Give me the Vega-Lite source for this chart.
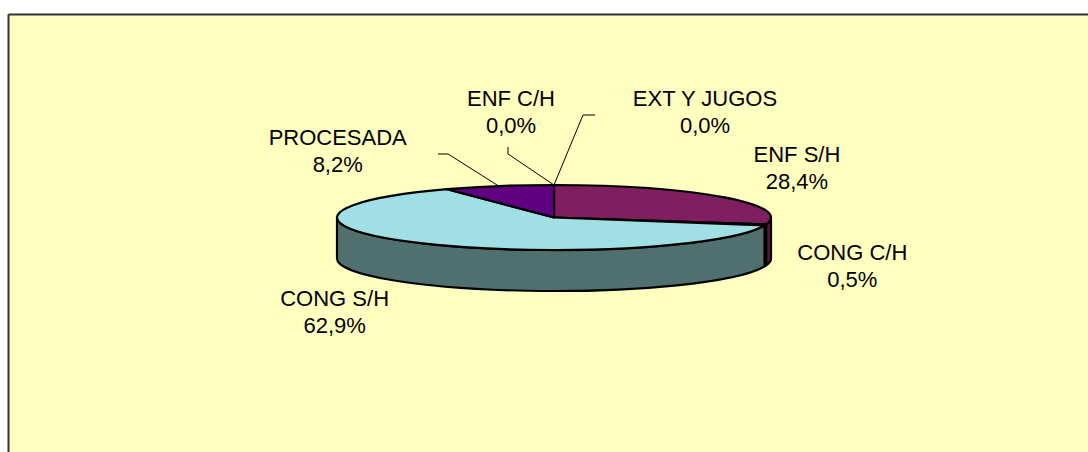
{
  "$schema": "https://vega.github.io/schema/vega-lite/v6.json",
  "width": 1080,
  "height": 438,
  "autosize": "none",
  "padding": {"left": 8, "top": 14, "right": 0, "bottom": 0},
  "background": "#FFFFFF",
  "config": {"view": {"fill": "#FFFFC0", "stroke": null}},
  "data": {"values": [
    {"cat": "ENF S/H", "value": 28.4},
    {"cat": "CONG C/H", "value": 0.5},
    {"cat": "CONG S/H", "value": 62.9},
    {"cat": "PROCESADA", "value": 8.2},
    {"cat": "ENF C/H", "value": 0.0},
    {"cat": "EXT Y JUGOS", "value": 0.0}
  ]},
  "transform": [
    {"window": [{"op": "sum", "field": "value", "as": "v1"}], "frame": [null, 0], "ignorePeers": true},
    {"joinaggregate": [{"op": "sum", "field": "value", "as": "total"}]},
    {"calculate": "2*PI*(datum.v1-datum.value)/datum.total", "as": "a0"},
    {"calculate": "2*PI*datum.v1/datum.total", "as": "a1"},
    {"calculate": "(datum.a0+datum.a1)/2", "as": "am"},
    {"calculate": "217*sin(datum.am)", "as": "ex"},
    {"calculate": "32.5*cos(datum.am)", "as": "ey"},
    {"calculate": "max(datum.a0, PI/2)", "as": "s0"},
    {"calculate": "min(datum.a1, 3*PI/2)", "as": "s1"},
    {"calculate": "'M0,0L' + round(sin(datum.a0)*100000)/100000 + ',' + round(-0.1498*cos(datum.a0)*100000)/100000 + 'A1,0.1498,0,' + (datum.a1 - datum.a0 > PI ? 1 : 0) + ',1,' + round(sin(datum.a1)*100000)/100000 + ',' + round(-0.1498*cos(datum.a1)*100000)/100000 + 'Z'", "as": "topPath"},
    {"calculate": "'M' + round(sin(datum.s0)*100000)/100000 + ',' + round(-0.1498*cos(datum.s0)*100000)/100000 + 'A1,0.1498,0,0,1,' + round(sin(datum.s1)*100000)/100000 + ',' + round(-0.1498*cos(datum.s1)*100000)/100000 + 'L' + round(sin(datum.s1)*100000)/100000 + ',' + round((0.1889-0.1498*cos(datum.s1))*100000)/100000 + 'A1,0.1498,0,0,0,' + round(sin(datum.s0)*100000)/100000 + ',' + round((0.1889-0.1498*cos(datum.s0))*100000)/100000 + 'Z'", "as": "sidePath"},
    {"calculate": "datum.cat + '\\n' + replace(format(datum.value, '.1f'), '.', ',') + '%'", "as": "label"}
  ],
  "encoding": {
    "x": {"field": "ex", "type": "quantitative", "scale": {"domain": [-546, 534], "nice": false, "zero": false}, "axis": {"orient": "top", "domain": true, "domainColor": "#333333", "domainWidth": 2, "ticks": false, "labels": false, "grid": false, "title": null}},
    "y": {"field": "ey", "type": "quantitative", "scale": {"domain": [-234.5, 203.5], "nice": false, "zero": false}, "axis": {"orient": "left", "domain": true, "domainColor": "#333333", "domainWidth": 2, "ticks": false, "labels": false, "grid": false, "title": null}}
  },
  "layer": [
    {
      "transform": [{"filter": "datum.value > 0 && datum.s1 > datum.s0"}],
      "mark": {"type": "point", "filled": true, "opacity": 1, "stroke": "#000000", "strokeWidth": 2.2, "strokeJoin": "round"},
      "encoding": {
        "x": {"datum": 0, "type": "quantitative", "scale": {"domain": [-546, 534], "nice": false, "zero": false}, "axis": {"orient": "top", "domain": true, "domainColor": "#333333", "domainWidth": 2, "ticks": false, "labels": false, "grid": false, "title": null}},
        "y": {"datum": 0, "type": "quantitative", "scale": {"domain": [-234.5, 203.5], "nice": false, "zero": false}, "axis": {"orient": "left", "domain": true, "domainColor": "#333333", "domainWidth": 2, "ticks": false, "labels": false, "grid": false, "title": null}},
        "shape": {"field": "sidePath", "type": "nominal", "scale": null, "legend": null},
        "size": {"value": 188356},
        "fill": {"field": "cat", "type": "nominal", "legend": null, "scale": {"domain": ["ENF S/H", "CONG C/H", "CONG S/H", "PROCESADA", "ENF C/H", "EXT Y JUGOS"], "range": ["#5A1545", "#202050", "#507070", "#300040", "#303060", "#404040"]}}
      }
    },
    {
      "transform": [{"filter": "datum.value > 0"}],
      "mark": {"type": "point", "filled": true, "opacity": 1, "stroke": "#000000", "strokeWidth": 2.2, "strokeJoin": "round"},
      "encoding": {
        "x": {"datum": 0, "type": "quantitative", "scale": {"domain": [-546, 534], "nice": false, "zero": false}, "axis": {"orient": "top", "domain": true, "domainColor": "#333333", "domainWidth": 2, "ticks": false, "labels": false, "grid": false, "title": null}},
        "y": {"datum": 0, "type": "quantitative", "scale": {"domain": [-234.5, 203.5], "nice": false, "zero": false}, "axis": {"orient": "left", "domain": true, "domainColor": "#333333", "domainWidth": 2, "ticks": false, "labels": false, "grid": false, "title": null}},
        "shape": {"field": "topPath", "type": "nominal", "scale": null, "legend": null},
        "size": {"value": 188356},
        "color": {"field": "cat", "type": "nominal", "legend": null, "scale": {"domain": ["ENF S/H", "CONG C/H", "CONG S/H", "PROCESADA", "ENF C/H", "EXT Y JUGOS"], "range": ["#7F1F5F", "#404080", "#A0E0E4", "#600080", "#606090", "#808080"]}}
      }
    },
    {
      "transform": [{"filter": "datum.cat == 'PROCESADA'"}],
      "mark": {"type": "rule", "color": "#000000", "strokeWidth": 1, "xOffset": 0, "yOffset": 0, "x2Offset": -50.7, "y2Offset": -32.1},
      "encoding": {"x2": {"field": "ex"}, "y2": {"field": "ey"}}
    },
    {
      "transform": [{"filter": "datum.cat == 'PROCESADA'"}],
      "mark": {"type": "rule", "color": "#000000", "strokeWidth": 1, "xOffset": -50.7, "yOffset": -32.1, "x2Offset": -60.7, "y2Offset": -32.1},
      "encoding": {"x2": {"field": "ex"}, "y2": {"field": "ey"}}
    },
    {
      "transform": [{"filter": "datum.cat == 'ENF C/H'"}],
      "mark": {"type": "rule", "color": "#000000", "strokeWidth": 1, "xOffset": 0, "yOffset": 0, "x2Offset": -46, "y2Offset": -31},
      "encoding": {"x2": {"field": "ex"}, "y2": {"field": "ey"}}
    },
    {
      "transform": [{"filter": "datum.cat == 'ENF C/H'"}],
      "mark": {"type": "rule", "color": "#000000", "strokeWidth": 1, "xOffset": -46, "yOffset": -31, "x2Offset": -46, "y2Offset": -38},
      "encoding": {"x2": {"field": "ex"}, "y2": {"field": "ey"}}
    },
    {
      "transform": [{"filter": "datum.cat == 'EXT Y JUGOS'"}],
      "mark": {"type": "rule", "color": "#000000", "strokeWidth": 1, "xOffset": 0, "yOffset": 0, "x2Offset": 29, "y2Offset": -70},
      "encoding": {"x2": {"field": "ex"}, "y2": {"field": "ey"}}
    },
    {
      "transform": [{"filter": "datum.cat == 'EXT Y JUGOS'"}],
      "mark": {"type": "rule", "color": "#000000", "strokeWidth": 1, "xOffset": 29, "yOffset": -70, "x2Offset": 41, "y2Offset": -70},
      "encoding": {"x2": {"field": "ex"}, "y2": {"field": "ey"}}
    },
    {
      "transform": [{"filter": "datum.cat == 'ENF S/H'"}],
      "mark": {"type": "text", "font": "Liberation Sans", "fontSize": 22, "lineHeight": 27, "lineBreak": "\n", "align": "center", "baseline": "middle", "color": "#000000", "dx": 74, "dy": -42},
      "encoding": {"text": {"field": "label"}}
    },
    {
      "transform": [{"filter": "datum.cat == 'CONG C/H'"}],
      "mark": {"type": "text", "font": "Liberation Sans", "fontSize": 22, "lineHeight": 27, "lineBreak": "\n", "align": "center", "baseline": "middle", "color": "#000000", "dx": 87, "dy": 28.4},
      "encoding": {"text": {"field": "label"}}
    },
    {
      "transform": [{"filter": "datum.cat == 'CONG S/H'"}],
      "mark": {"type": "text", "font": "Liberation Sans", "fontSize": 22, "lineHeight": 27, "lineBreak": "\n", "align": "center", "baseline": "middle", "color": "#000000", "dx": -88, "dy": 55.6},
      "encoding": {"text": {"field": "label"}}
    },
    {
      "transform": [{"filter": "datum.cat == 'PROCESADA'"}],
      "mark": {"type": "text", "font": "Liberation Sans", "fontSize": 22, "lineHeight": 27, "lineBreak": "\n", "align": "center", "baseline": "middle", "color": "#000000", "dx": -161, "dy": -48},
      "encoding": {"text": {"field": "label"}}
    },
    {
      "transform": [{"filter": "datum.cat == 'ENF C/H'"}],
      "mark": {"type": "text", "font": "Liberation Sans", "fontSize": 22, "lineHeight": 27, "lineBreak": "\n", "align": "center", "baseline": "middle", "color": "#000000", "dx": -43, "dy": -86},
      "encoding": {"text": {"field": "label"}}
    },
    {
      "transform": [{"filter": "datum.cat == 'EXT Y JUGOS'"}],
      "mark": {"type": "text", "font": "Liberation Sans", "fontSize": 22, "lineHeight": 27, "lineBreak": "\n", "align": "center", "baseline": "middle", "color": "#000000", "dx": 151, "dy": -86},
      "encoding": {"text": {"field": "label"}}
    }
  ]
}
